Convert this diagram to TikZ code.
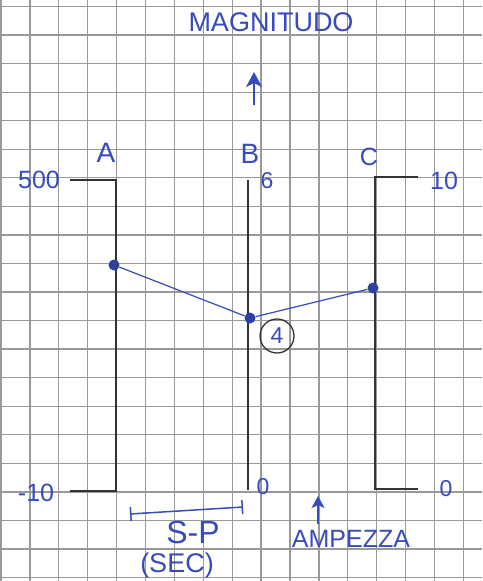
\documentclass[tikz,border=0pt]{standalone}
\usepackage{fontspec}
\setmainfont{Liberation Sans}
\usetikzlibrary{arrows.meta}
\definecolor{inkblue}{RGB}{55,75,190}
\begin{document}
\begin{tikzpicture}[x=1pt,y=-1pt,
  ink/.style={draw=inkblue, line width=1.5pt},
  axisline/.style={draw=black!80, line width=2pt},
  lab/.style={text=inkblue, font=\fontsize{28}{28}\selectfont, inner sep=0pt},
  small/.style={text=inkblue, font=\fontsize{23}{23}\selectfont, inner sep=0pt},
  dot/.style={circle, fill=inkblue!85!black, inner sep=0pt, minimum size=11pt},
  gridline/.style={draw=black!40, line width=1.3pt}]
\useasboundingbox (0,0) rectangle (482,581);
\fill[white] (0,0) rectangle (482,581);
\foreach \i in {0,...,16} \draw[gridline] ({1+28.9*\i},0) -- ({1+28.9*\i},581);
\foreach \j in {0,...,20} \draw[gridline] (0,{6.5+28.55*\j}) -- (482,{6.5+28.55*\j});
% axis A
\coordinate (Atl) at (70,180); \coordinate (At) at (116,180);
\coordinate (Ab) at (116,491); \coordinate (Abl) at (70,491);
\draw[axisline] (Atl) -- (At) -- (Ab) -- (Abl);
% axis B
\coordinate (Bt) at (248,180); \coordinate (Bb) at (248,490);
\draw[axisline] (Bt) -- (Bb);
% axis C
\coordinate (Ctr) at (418,177); \coordinate (Ct) at (375,177);
\coordinate (Cb) at (375,489); \coordinate (Cbr) at (418,489);
\draw[axisline] (Ctr) -- (Ct) -- (Cb) -- (Cbr);
% points and line
\node[dot] (pa) at (114,265) {};
\node[dot] (pb) at (250,318) {};
\node[dot] (pc) at (373,288) {};
\draw[ink, line width=1.2pt] (pa) -- (pb) -- (pc);
\node[circle, draw=black!80, line width=1.3pt, minimum size=34pt, inner sep=0pt, small] (four) at (277,336) {4};
% labels
\node[lab] (lA) at (106,153) {A};
\node[lab] (lB) at (250,154) {B};
\node[small] (l6) at (267,181) {6};
\node[lab, font=\fontsize{25}{25}\selectfont] (lC) at (369,157) {C};
\node[small, font=\fontsize{25}{25}\selectfont] (l500) at (39,180) {500};
\node[small, font=\fontsize{25}{25}\selectfont] (l10) at (444,181) {10};
\node[small, font=\fontsize{25}{25}\selectfont] (lm10) at (36,493) {-10};
\node[small] (l0b) at (263,487) {0};
\node[small] (l0c) at (446,489) {0};
% magnitudo
\node[lab, font=\fontsize{27}{27}\selectfont] (mag) at (271,22) {MAGNITUDO};
\coordinate (m1) at (254,105); \coordinate (m2) at (254,72);
\draw[ink, -{Stealth[length=15pt,width=16pt,inset=4pt]}] (m1) -- (m2);
% scale bar
\coordinate (s1) at (130,514); \coordinate (s2) at (243,507);
\draw[ink, {Bar[width=14pt]}-{Bar[width=14pt]}] (s1) -- (s2);
\node[lab, font=\fontsize{32}{32}\selectfont] (sp) at (193,532) {S-P};
\node[small, font=\fontsize{27}{27}\selectfont] (sec) at (177,566) {(SEC)};
% ampezza
\node[small, font=\fontsize{25}{25}\selectfont] (amp) at (351,539) {AMPEZZA};
\coordinate (a1) at (318,524); \coordinate (a2) at (318,496);
\draw[ink, -{Stealth[length=12pt,width=13pt,inset=3pt]}] (a1) -- (a2);
\end{tikzpicture}
\end{document}
